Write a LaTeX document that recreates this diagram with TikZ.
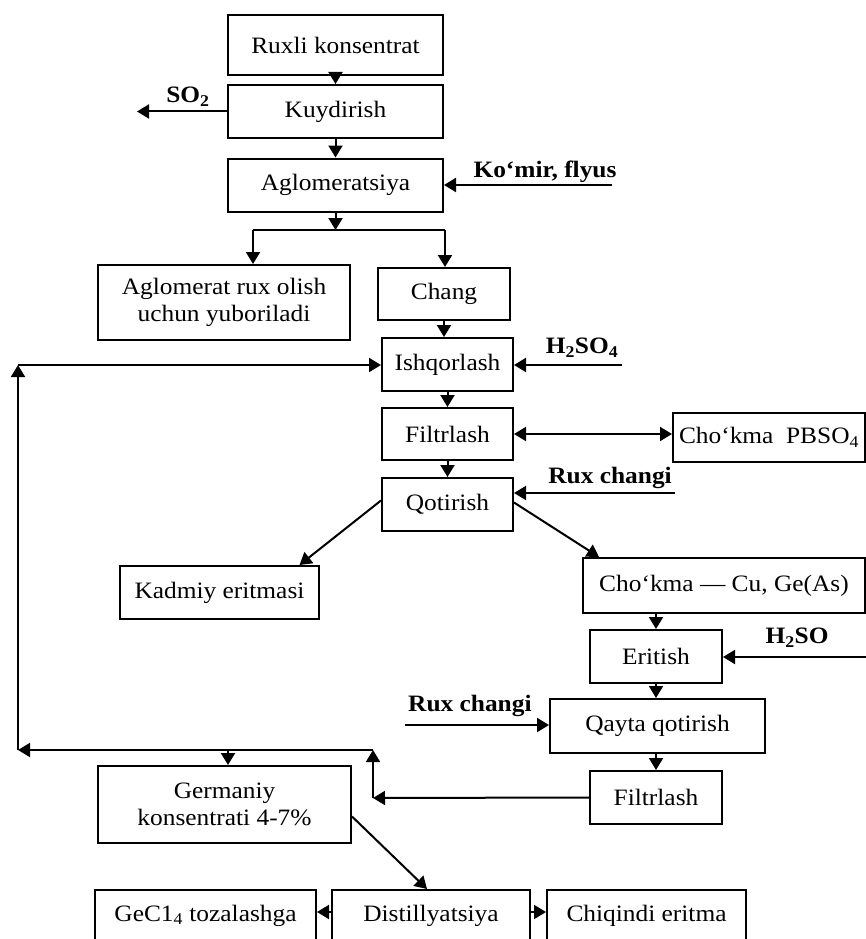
\documentclass[tikz,border=0pt]{standalone}
\usepackage{fontspec}
\setmainfont{Liberation Serif}[FakeStretch=1.08]
\usetikzlibrary{arrows.meta,calc}

\begin{document}
\begin{tikzpicture}[
  x=1pt,
  y=-1pt,
  every node/.style={font=\fontsize{23.5}{27}\selectfont},
  box/.style={
    draw,
    line width=2pt,
    align=center,
    inner sep=0pt,
    minimum height=53pt
  },
  lowbox/.style={box, anchor=north, minimum height=0pt, text height=31pt, text depth=49pt},
  lbl/.style={font=\fontsize{23.5}{27}\selectfont\bfseries, inner sep=0pt},
  line/.style={line width=2pt},
  arrow/.style={-{Triangle[length=12pt,width=14pt]}, line width=2pt},
  biarrow/.style={{Triangle[length=12pt,width=14pt]}-{Triangle[length=12pt,width=14pt]}, line width=2pt}
]
\useasboundingbox (0,0) rectangle (866,939);

\node[box, minimum width=215pt, minimum height=60pt] (ruxli) at (335.5,45) {Ruxli konsentrat};
\node[box, minimum width=215pt] (kuyd) at (335.5,111.5) {Kuydirish};
\node[box, minimum width=215pt] (aglo) at (335.5,185) {Aglomeratsiya};
\node[box, minimum width=252pt, minimum height=75pt] (aglrux) at (224,302.5) {Aglomerat rux olish\\uchun yuboriladi};
\node[box, minimum width=132pt, minimum height=52pt] (chang) at (444,294) {Chang};
\node[box, minimum width=131pt] (ishq) at (447.5,364.5) {Ishqorlash};
\node[box, minimum width=131pt, minimum height=52pt] (filt1) at (447.5,434) {Filtrlash};
\node[box, minimum width=192pt, minimum height=49pt] (pbso) at (769,437.5) {Cho‘kma\ \ PBSO\textsubscript{4}};
\node[box, minimum width=131pt] (qot) at (447.5,504.5) {Qotirish};
\node[box, minimum width=199pt] (kadm) at (219.5,592.5) {Kadmiy eritmasi};
\node[box, minimum width=282pt, minimum height=55pt] (cuge) at (724,585.5) {Cho‘kma — Cu, Ge(As)};
\node[box, minimum width=132pt] (erit) at (656,656.5) {Eritish};
\node[box, minimum width=215pt, minimum height=54pt] (qayta) at (657.5,726) {Qayta qotirish};
\node[box, minimum width=132pt] (filt2) at (656,797.5) {Filtrlash};
\node[box, minimum width=253pt, minimum height=77pt] (germ) at (224.5,804.5) {Germaniy\\konsentrati 4-7\%};
\node[lowbox, minimum width=221pt] (gecl) at (205.5,889) {GeC1\textsubscript{4} tozalashga};
\node[lowbox, minimum width=198pt] (dist) at (431,889) {Distillyatsiya};
\node[lowbox, minimum width=199pt] (chiq) at (646.5,889) {Chiqindi eritma};

\node[lbl] (so2) at (188,97) {SO\textsubscript{2}};
\node[lbl] (komir) at (545,172) {Ko‘mir, flyus};
\node[lbl] (h2so4) at (582,348) {H\textsubscript{2}SO\textsubscript{4}};
\node[lbl, anchor=east] (rux1) at (672,478) {Rux changi};
\node[lbl] (h2so) at (797,638) {H\textsubscript{2}SO};
\node[lbl, anchor=west] (rux2) at (408,706) {Rux changi};

\coordinate (so2end) at (137,111.5);
\coordinate (komirin) at (612,185);
\coordinate (h2so4in) at (622,365);
\coordinate (rux1in) at (675,493);
\coordinate (h2soin) at (866,657);
\coordinate (rux2in) at (405,725);
\coordinate (spl) at (253,230);
\coordinate (spr) at (445,230);
\coordinate (back1) at (373,798);
\coordinate (back2) at (373,750);
\coordinate (back3) at (18,750);
\coordinate (back4) at (18,365);
\coordinate (germin) at (228,750);

\draw[arrow] (ruxli) -- (kuyd);
\draw[arrow] (kuyd) -- (aglo);
\draw[arrow] (kuyd.west) -- (so2end);
\draw[arrow] (komirin) -- (aglo.east |- komirin);
\draw[arrow] (aglo) -- (aglo |- spl);
\draw[line] (spl) -- (spr);
\draw[arrow] (spl) -- (spl |- aglrux.north);
\draw[arrow] (spr) -- (spr |- chang.north);
\draw[arrow] (chang.south) -- (chang.south |- ishq.north);
\draw[arrow] (h2so4in) -- (ishq.east |- h2so4in);
\draw[arrow] (ishq) -- (filt1);
\draw[biarrow] (filt1.east) -- (filt1.east -| pbso.west);
\draw[arrow] (filt1) -- (qot);
\draw[arrow] (rux1in) -- (qot.east |- rux1in);
\draw[arrow] ([yshift=4pt]qot.west) -- ([xshift=80pt]kadm.north);
\draw[arrow] ([yshift=2pt]qot.east) -- ([xshift=17pt]cuge.north west);
\draw[arrow] (erit.north |- cuge.south) -- (erit.north);
\draw[arrow] (h2soin) -- (erit.east |- h2soin);
\draw[arrow] (erit.south) -- (erit.south |- qayta.north);
\draw[arrow] (rux2in) -- (qayta.west |- rux2in);
\draw[arrow] (qayta.south -| filt2) -- (filt2.north);
\draw[arrow] (filt2.west) -- (back1);
\draw[arrow] (back1) -- (back2);
\draw[arrow] (back2) -- (back3);
\draw[arrow] (back3) -- (back4);
\draw[arrow] (back4) -- (ishq.west |- back4);
\draw[arrow] (germin) -- (germin |- germ.north);
\draw[arrow] ([yshift=-12pt]germ.east) -- ([xshift=-4pt]dist.north);
\draw[arrow] ($(dist.north west)+(0,23)$) -- ($(gecl.north east)+(0,23)$);
\draw[arrow] ($(dist.north east)+(0,23)$) -- ($(chiq.north west)+(0,23)$);
\end{tikzpicture}
\end{document}
